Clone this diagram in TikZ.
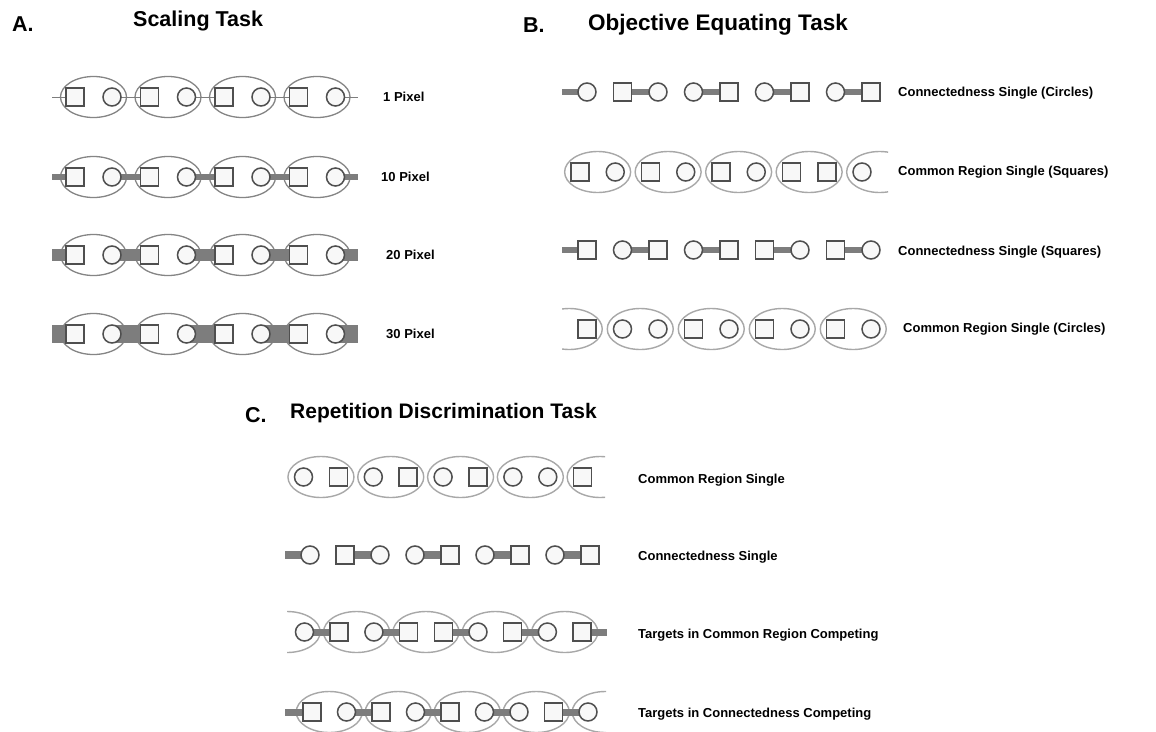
\documentclass[tikz,border=0pt]{standalone}
\usepackage{fontspec}
\setmainfont{Liberation Sans}
\usetikzlibrary{shapes.geometric}
\pgfdeclarelayer{paper}
\pgfdeclarelayer{regions}
\pgfdeclarelayer{links}
\pgfsetlayers{paper,regions,links,main}
\definecolor{shapeline}{HTML}{4F4F4F}
\definecolor{shapefill}{HTML}{F8F8F8}
\definecolor{regA}{HTML}{858585}
\definecolor{regB}{HTML}{A8A8A8}
\definecolor{barcol}{HTML}{7D7D7D}
\begin{document}
\begin{tikzpicture}[x=1pt,y=-1pt,
  elt/.style={draw=shapeline,line width=1.5pt,fill=shapefill,minimum size=18pt,inner sep=0pt},
  region/.style={ellipse,draw=regB,line width=1.4pt,minimum width=66pt,minimum height=41pt,inner sep=0pt},
  regionA/.style={region,draw=regA,line width=1.3pt},
  link/.style={draw=barcol,line width=#1},
  link/.default=5.5pt,
  label/.style={anchor=west,font=\fontsize{13}{15}\selectfont\bfseries,inner sep=0pt},
  title/.style={anchor=west,font=\fontsize{21.5}{25}\selectfont\bfseries,inner sep=0pt}]

\begin{pgfonlayer}{paper}
  \fill[white] (0,0) rectangle (1156,731);
\end{pgfonlayer}
\useasboundingbox (0,0) rectangle (1156,731);

% ---------- titles ----------
\node[title] (tA) at (12,24) {A.};
\node[title] (tAname) at (133,21) {Scaling Task};
\node[title] (tB) at (523,25) {B.};
\node[title,font=\fontsize{22.5}{26}\selectfont\bfseries] (tBname) at (588,25) {Objective Equating Task};
\node[title] (tC) at (245,415) {C.};
\node[title,font=\fontsize{21}{25}\selectfont\bfseries] (tCname) at (290,413) {Repetition Discrimination Task};

% ---------- A: scaling task ----------
\foreach \r/\y/\w/\lab/\lx in {1/97/1pt/1 Pixel/383, 2/177/6pt/10 Pixel/381,
                              3/255/12pt/20 Pixel/386, 4/334/18pt/30 Pixel/386} {
  \coordinate (a\r-in) at (52,\y);
  \coordinate (a\r-out) at (358,\y);
  \foreach \k in {0,...,3} {
    \node[elt,shape=rectangle] (a\r-s\k) at ({75+74.5*\k},\y) {};
    \node[elt,shape=circle] (a\r-c\k) at ({112+74.5*\k},\y) {};
    \begin{pgfonlayer}{regions}
      \node[regionA] (a\r-r\k) at ({93.5+74.5*\k},\y) {};
    \end{pgfonlayer}
  }
  \begin{pgfonlayer}{links}
    \draw[link=\w] (a\r-in) -- (a\r-s0.center);
    \foreach \k [evaluate=\k as \n using int(\k+1)] in {0,1,2}
      \draw[link=\w] (a\r-c\k.center) -- (a\r-s\n.center);
    \draw[link=\w] (a\r-c3.center) -- (a\r-out);
  \end{pgfonlayer}
  \node[label] (a\r-lab) at (\lx,\y) {\lab};
}

% ---------- B: objective equating task ----------
% row 1: connectedness, circles
\foreach \t [count=\i from 0] in {circle,rectangle,circle,circle,rectangle,circle,rectangle,circle,rectangle}
  \node[elt,shape=\t] (b1-\i) at ({587+35.5*\i},92) {};
\coordinate (b1-in) at (562,92);
\begin{pgfonlayer}{links}
  \draw[link] (b1-in) -- (b1-0.center);
  \foreach \a/\b in {1/2,3/4,5/6,7/8} \draw[link] (b1-\a.center) -- (b1-\b.center);
\end{pgfonlayer}
\node[label] (b1-lab) at (898,93) {Connectedness Single (Circles)};

% row 2: common region, squares
\foreach \t [count=\i from 0] in {rectangle,circle,rectangle,circle,rectangle,circle,rectangle,rectangle,circle}
  \node[elt,shape=\t] (b2-\i) at ({580+35.25*\i},172) {};
\begin{pgfonlayer}{regions}
  \foreach \a in {0,2,4,6} \node[region] (b2-r\a) at ({580+35.25*(\a+0.5)},172) {};
  \begin{scope}
    \clip (820,140) rectangle (888,205);
    \node[region] (b2-r8) at ({580+35.25*8.5},172) {};
  \end{scope}
\end{pgfonlayer}
\node[label] (b2-lab) at (898,172) {Common Region Single (Squares)};

% row 3: connectedness, squares
\foreach \t [count=\i from 0] in {rectangle,circle,rectangle,circle,rectangle,rectangle,circle,rectangle,circle}
  \node[elt,shape=\t] (b3-\i) at ({587+35.5*\i},250) {};
\coordinate (b3-in) at (562,250);
\begin{pgfonlayer}{links}
  \draw[link] (b3-in) -- (b3-0.center);
  \foreach \a/\b in {1/2,3/4,5/6,7/8} \draw[link] (b3-\a.center) -- (b3-\b.center);
\end{pgfonlayer}
\node[label] (b3-lab) at (898,252) {Connectedness Single (Squares)};

% row 4: common region, circles
\foreach \t [count=\i from 0] in {rectangle,circle,circle,rectangle,circle,rectangle,circle,rectangle,circle}
  \node[elt,shape=\t] (b4-\i) at ({587+35.5*\i},329) {};
\begin{pgfonlayer}{regions}
  \foreach \a in {1,3,5,7} \node[region] (b4-r\a) at ({587+35.5*(\a+0.5)},329) {};
  \begin{scope}
    \clip (562,295) rectangle (610,365);
    \node[region] (b4-r0) at ({587-35.5*0.5},329) {};
  \end{scope}
\end{pgfonlayer}
\node[label] (b4-lab) at (903,329) {Common Region Single (Circles)};

% ---------- C: repetition discrimination task ----------
% row 1: common region single
\foreach \t [count=\i from 0] in {circle,rectangle,circle,rectangle,circle,rectangle,circle,circle,rectangle}
  \node[elt,shape=\t] (c1-\i) at ({303.5+34.9*\i},477) {};
\begin{pgfonlayer}{regions}
  \foreach \a in {0,2,4,6} \node[region] (c1-r\a) at ({303.5+34.9*(\a+0.5)},477) {};
  \begin{scope}
    \clip (560,445) rectangle (605,510);
    \node[region] (c1-r8) at ({303.5+34.9*8.5},477) {};
  \end{scope}
\end{pgfonlayer}
\node[label] (c1-lab) at (638,480) {Common Region Single};

% row 2: connectedness single
\foreach \t [count=\i from 0] in {circle,rectangle,circle,circle,rectangle,circle,rectangle,circle,rectangle}
  \node[elt,shape=\t] (c2-\i) at ({310+35*\i},555) {};
\coordinate (c2-in) at (285,555);
\begin{pgfonlayer}{links}
  \draw[link=8pt] (c2-in) -- (c2-0.center);
  \foreach \a/\b in {1/2,3/4,5/6,7/8} \draw[link=8pt] (c2-\a.center) -- (c2-\b.center);
\end{pgfonlayer}
\node[label] (c2-lab) at (638,557) {Connectedness Single};

% row 3: targets grouped by common region, links competing
\foreach \t [count=\i from 0] in {circle,rectangle,circle,rectangle,rectangle,circle,rectangle,circle,rectangle}
  \node[elt,shape=\t] (c3-\i) at ({304.5+34.7*\i},632) {};
\coordinate (c3-out) at (607,632);
\begin{pgfonlayer}{regions}
  \foreach \a in {1,3,5,7} \node[region] (c3-r\a) at ({304.5+34.7*(\a+0.5)},632) {};
  \begin{scope}
    \clip (287,600) rectangle (330,665);
    \node[region] (c3-r0) at ({304.5-34.7*0.5},632) {};
  \end{scope}
\end{pgfonlayer}
\begin{pgfonlayer}{links}
  \foreach \a/\b in {0/1,2/3,4/5,6/7} \draw[link=7pt] (c3-\a.center) -- (c3-\b.center);
  \draw[link=7pt] (c3-8.center) -- (c3-out);
\end{pgfonlayer}
\node[label] (c3-lab) at (638,635) {Targets in Common Region Competing};

% row 4: targets linked, regions competing
\foreach \t [count=\i from 0] in {rectangle,circle,rectangle,circle,rectangle,circle,circle,rectangle,circle}
  \node[elt,shape=\t] (c4-\i) at ({312+34.5*\i},712) {};
\coordinate (c4-in) at (285,712);
\begin{pgfonlayer}{regions}
  \foreach \a in {0,2,4,6} \node[region] (c4-r\a) at ({312+34.5*(\a+0.5)},712) {};
  \begin{scope}
    \clip (570,680) rectangle (606,745);
    \node[region] (c4-r8) at ({312+34.5*8.5},712) {};
  \end{scope}
\end{pgfonlayer}
\begin{pgfonlayer}{links}
  \draw[link=7pt] (c4-in) -- (c4-0.center);
  \foreach \a/\b in {1/2,3/4,5/6,7/8} \draw[link=7pt] (c4-\a.center) -- (c4-\b.center);
\end{pgfonlayer}
\node[label] (c4-lab) at (638,714) {Targets in Connectedness Competing};

\end{tikzpicture}
\end{document}
